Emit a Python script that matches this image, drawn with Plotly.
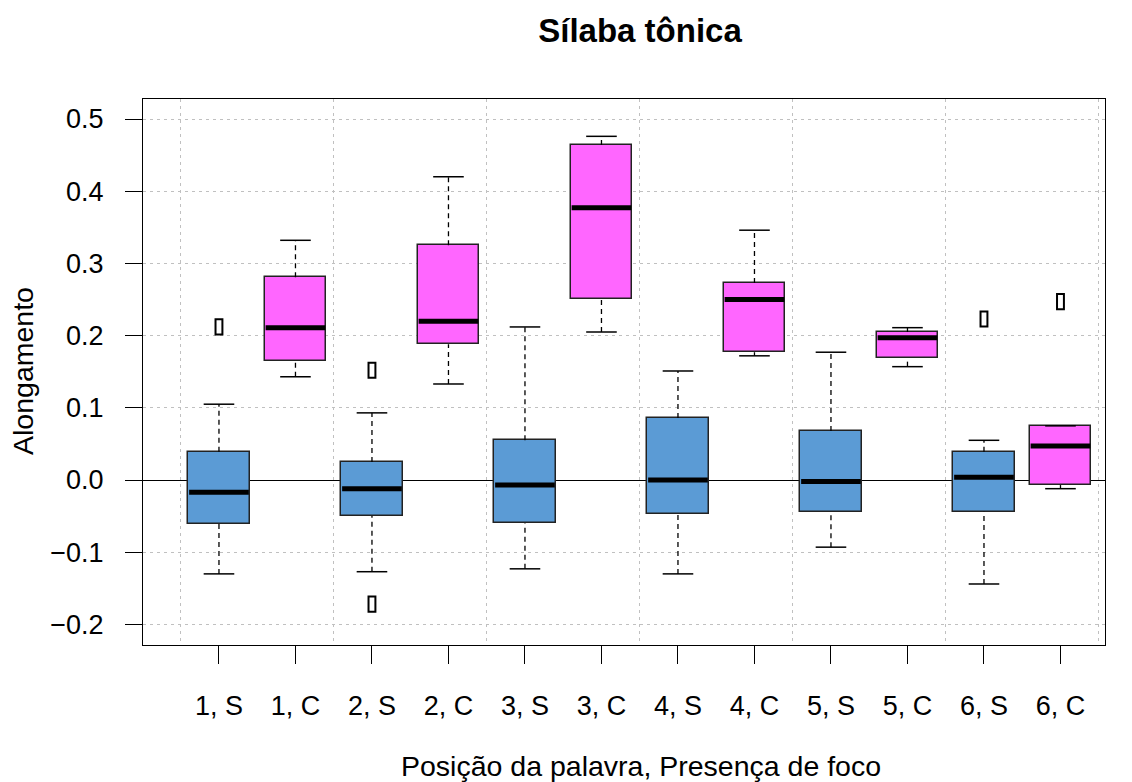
import plotly.graph_objects as go

categories = ["1, S", "1, C", "2, S", "2, C", "3, S", "3, C",
              "4, S", "4, C", "5, S", "5, C", "6, S", "6, C"]
positions = list(range(1, 13))
whisk_lo = [-0.130, 0.143, -0.127, 0.133, -0.123, 0.205, -0.130, 0.172, -0.093, 0.157, -0.144, -0.012]
q1       = [-0.061, 0.165, -0.050, 0.188, -0.060, 0.251, -0.047, 0.177, -0.044, 0.169, -0.044, -0.007]
median   = [-0.017, 0.211, -0.012, 0.220, -0.007, 0.377, 0.000, 0.250, -0.002, 0.197, 0.004, 0.047]
q3       = [0.039, 0.281, 0.025, 0.325, 0.055, 0.464, 0.086, 0.273, 0.068, 0.205, 0.039, 0.075]
whisk_hi = [0.105, 0.332, 0.093, 0.420, 0.212, 0.476, 0.151, 0.346, 0.177, 0.211, 0.055, 0.075]
outlier_x = [1, 3, 3, 11, 12]
outlier_y = [0.212, 0.152, -0.172, 0.223, 0.247]
colors = ["#5B9BD5", "#FF66FF"] * 6
ytick_vals = [-0.2, -0.1, 0.0, 0.1, 0.2, 0.3, 0.4, 0.5]
ytick_text = ["\u22120.2", "\u22120.1", "0.0", "0.1", "0.2", "0.3", "0.4", "0.5"]
vgrid = [0.5, 2.5, 4.5, 6.5, 8.5, 10.5, 12.5]

BOXW = 0.8
CAPW = 0.4

# figure geometry (page body adds an 8px margin)
W, H = 1124, 774
L, T, PW, PH = 135, 91, 962, 546
R, B = W - L - PW, H - T - PH

fig = go.Figure()

# whiskers (dashed) and caps
for i, p in enumerate(positions):
    for a, b in ((whisk_lo[i], q1[i]), (q3[i], whisk_hi[i])):
        if b - a > 1e-9:
            fig.add_trace(go.Scatter(x=[p, p], y=[a, b], mode="lines",
                                     line=dict(color="black", width=1.3, dash="5px,4px"),
                                     showlegend=False, hoverinfo="skip"))
    for w in (whisk_lo[i], whisk_hi[i]):
        fig.add_trace(go.Scatter(x=[p - CAPW / 2, p + CAPW / 2], y=[w, w], mode="lines",
                                 line=dict(color="black", width=1.5),
                                 showlegend=False, hoverinfo="skip"))

# boxes
fig.add_trace(go.Bar(x=positions, y=[b - a for a, b in zip(q1, q3)], base=q1,
                     width=BOXW, marker=dict(color=colors, line=dict(color="#222222", width=1.5)),
                     showlegend=False, hoverinfo="skip"))

# medians
for i, p in enumerate(positions):
    fig.add_trace(go.Scatter(x=[p - BOXW / 2 + 0.01, p + BOXW / 2 - 0.01], y=[median[i], median[i]],
                             mode="lines", line=dict(color="black", width=5),
                             showlegend=False, hoverinfo="skip"))

# outliers as small open rectangles
for xo, yo in zip(outlier_x, outlier_y):
    fig.add_shape(type="rect", x0=xo - 0.045, x1=xo + 0.045, y0=yo - 0.0105, y1=yo + 0.0105,
                  xref="x", yref="y", line=dict(color="black", width=2), layer="above")

FONT = "Liberation Sans, Arial, sans-serif"
fig.update_layout(
    width=W, height=H,
    margin=dict(l=L, r=R, t=T, b=B),
    paper_bgcolor="white", plot_bgcolor="white",
    font=dict(family=FONT, size=27, color="black"),
    title=dict(text="<b>Sílaba tônica</b>", x=632 / W, xanchor="center", xref="container",
               y=1 - 22 / H, yanchor="middle", yref="container", font=dict(size=33)),
    bargap=0,
)
fig.add_annotation(text="Posição da palavra, Presença de foco", xref="paper", yref="paper",
                   x=(633 - L) / PW, y=(T + PH - 758) / PH, xanchor="center", yanchor="middle",
                   showarrow=False, font=dict(size=28.5))
fig.add_annotation(text="Alongamento", xref="paper", yref="paper", textangle=-90,
                   x=(15 - L) / PW, y=(T + PH - 363) / PH, xanchor="center", yanchor="middle",
                   showarrow=False, font=dict(size=28.5))

fig.update_xaxes(range=[0.007, 12.582], tickvals=positions, ticktext=categories,
                 showgrid=False, zeroline=False,
                 showline=True, linecolor="black", linewidth=1.3, mirror=True,
                 ticks="outside", ticklen=18, tickwidth=1.3, tickcolor="black",
                 ticklabelstandoff=18,
                 minor=dict(tickvals=vgrid, showgrid=True, gridcolor="#c0c0c0",
                            griddash="3px,4px", gridwidth=1.2, ticks=""))
fig.update_yaxes(range=[-0.2285, 0.5277], tickvals=ytick_vals, ticktext=ytick_text,
                 showgrid=True, gridcolor="#c0c0c0", griddash="3px,4px", gridwidth=1.2,
                 zeroline=True, zerolinecolor="black", zerolinewidth=1.2,
                 showline=True, linecolor="black", linewidth=1.3, mirror=True,
                 ticks="outside", ticklen=17, tickwidth=1.3, tickcolor="black",
                 ticklabelstandoff=16)

fig.write_html("out.html")
